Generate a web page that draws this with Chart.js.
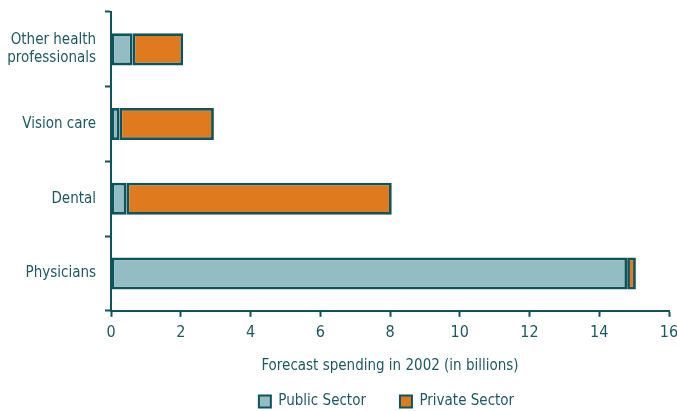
<!DOCTYPE html>
<html>
<head>
<meta charset="utf-8">
<script src="https://cdn.jsdelivr.net/npm/chart.js@4/dist/chart.umd.min.js"></script>
<style>
  html, body { margin: 0; padding: 0; background: #fff; }
  #wrap { width: 677px; height: 411px; position: relative; }
</style>
</head>
<body>
<div id="wrap"><canvas id="spendChart"></canvas></div>
<script>
// spending categories, top to bottom
const categories = [["Other health", "professionals"], "Vision care", "Dental", "Physicians"];
// forecast spending in 2002, billions
const publicSector = [0.62, 0.24, 0.44, 14.8];
const privateSector = [1.45, 2.71, 7.61, 0.25];
const xTicks = [0, 2, 4, 6, 8, 10, 12, 14, 16];

const ink = "#1d5963";
const edge = "#0e545d";
const fontFam = "'DejaVu Sans Condensed', 'DejaVu Sans', sans-serif";

Chart.defaults.font.family = fontFam;
Chart.defaults.font.size = 15;
Chart.defaults.color = ink;

const barStyle = {
  borderColor: edge,
  borderWidth: 2.8,
  borderSkipped: false,
  barPercentage: 0.43,
  categoryPercentage: 1
};

// legend sits a bit right of centre, under the plot area
const legendNudge = {
  id: "legendNudge",
  afterLayout(chart) {
    const lg = chart.legend;
    lg.left += 52; lg.right += 52;
    lg.top -= 21; lg.bottom = chart.height;
  }
};

new Chart(document.getElementById("spendChart"), {
  type: "bar",
  data: {
    labels: categories,
    datasets: [
      Object.assign({ label: "Public Sector", data: publicSector, backgroundColor: "#93bcc3" }, barStyle),
      Object.assign({ label: "Private Sector", data: privateSector, backgroundColor: "#e07a1f" }, barStyle)
    ]
  },
  plugins: [legendNudge],
  options: {
    indexAxis: "y",
    responsive: true,
    maintainAspectRatio: false,
    animation: false,
    layout: { padding: { top: 12, right: 8, bottom: 0, left: 0 } },
    plugins: {
      tooltip: { enabled: false },
      legend: {
        position: "bottom",
        maxHeight: 30,
        labels: {
          boxWidth: 12,
          boxHeight: 12,
          padding: 34,
          color: ink,
          font: { size: 15, family: fontFam },
          generateLabels: (chart) => {
            // thinner outline on the little legend squares
            const items = Chart.defaults.plugins.legend.labels.generateLabels(chart);
            items.forEach(it => { it.lineWidth = 2; });
            return items;
          }
        }
      }
    },
    scales: {
      x: {
        stacked: true,
        min: 0,
        max: 16,
        afterBuildTicks: (axis) => { axis.ticks = xTicks.map(v => ({ value: v })); },
        afterFit: (axis) => { axis.paddingRight = 0; },
        grid: { drawOnChartArea: false, drawTicks: true, tickLength: 6, tickWidth: 2, color: edge },
        border: { display: true, color: edge, width: 2 },
        ticks: { padding: 6, color: ink, font: { size: 16 } },
        title: { display: true, text: "Forecast spending in 2002 (in billions)", color: ink, font: { size: 15 }, padding: { top: 9, bottom: 6 } }
      },
      y: {
        stacked: true,
        afterFit: (axis) => { axis.width = 111; axis.paddingTop = 0; axis.paddingBottom = 0; },
        grid: { drawOnChartArea: false, drawTicks: true, tickLength: 6, tickWidth: 2, color: edge, offset: true },
        border: { display: true, color: edge, width: 2 },
        ticks: { padding: 9, color: ink, font: { size: 15 } }
      }
    }
  }
});
</script>
</body>
</html>
